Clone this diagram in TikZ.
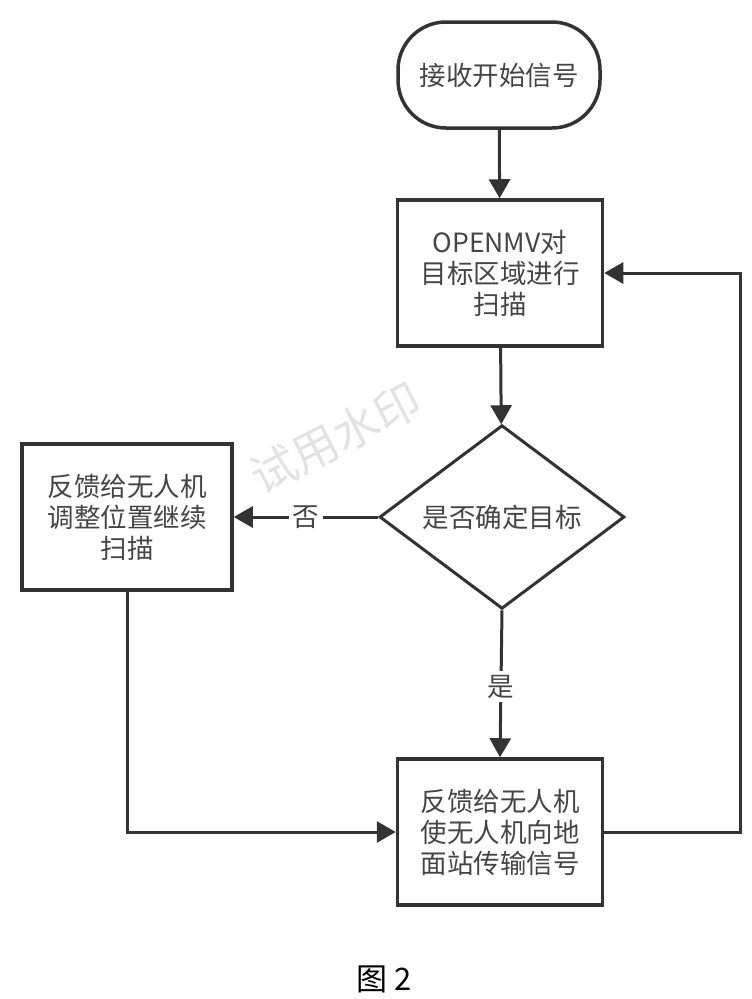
\documentclass[tikz,border=0pt]{standalone}
\usepackage{fontspec}
\setmainfont{Noto Sans CJK SC}
\usetikzlibrary{arrows.meta}
\usetikzlibrary{shapes.geometric}
\definecolor{ln}{rgb}{0.20, 0.20, 0.20}
\definecolor{tx}{rgb}{0.27, 0.27, 0.27}
\definecolor{wm}{rgb}{0.89, 0.89, 0.89}
\tikzset{
  box/.style = {rectangle, draw=ln, line width=3.5pt, fill=white, minimum width=205pt, minimum height=146pt, inner sep=0pt, align=center, text=tx, font=\fontsize{26.5}{31}\selectfont},
  startbox/.style = {box, rounded corners=48pt, minimum width=202pt, minimum height=106pt},
  decision/.style = {diamond, draw=ln, line width=3pt, fill=white, minimum width=245pt, minimum height=165pt, inner sep=0pt, text=tx, font=\fontsize{26.5}{31}\selectfont},
  flow/.style = {-{Triangle[length=19pt, width=21pt]}, draw=ln, line width=3pt},
  lbl/.style = {fill=white, text=tx, inner sep=4pt, font=\fontsize{26.5}{31}\selectfont},
}

\begin{document}
\begin{tikzpicture}[x=1pt, y=-1pt]
    \useasboundingbox (0,0) rectangle (752,999);

    % watermark
    \node[text=wm, rotate=27, font=\fontsize{46}{46}\selectfont] (wmark) at (336,438) {试用水印};

    \node[startbox] (start) at (499,75) {接收开始信号};

    \node[box] (scan) at (500,273) {OPENMV对\\目标区域进行\\扫描};

    \node[decision] (check) at (502,517) {是否确定目标};

    \node[box, minimum width=210pt] (adjust) at (127,517) {反馈给无人机\\调整位置继续\\扫描};

    \node[box] (send) at (500,832) {反馈给无人机\\使无人机向地\\面站传输信号};

    \coordinate (loop) at (740,832);

    \draw[flow] (start) -- (scan);
    \draw[flow] (scan) -- (check);
    \draw[flow] (check.west) -- node[lbl] {否} (adjust.east);
    \draw[flow] (check.south) -- node[lbl, pos=0.52] {是} (send.north);
    \draw[flow] (adjust.south) |- (send.west);
    \draw[flow] (send.east) -- (loop) |- (scan.east);

    \node[font=\fontsize{31}{31}\selectfont] (caption) at (384,979) {图 2};

  \end{tikzpicture}
\end{document}
